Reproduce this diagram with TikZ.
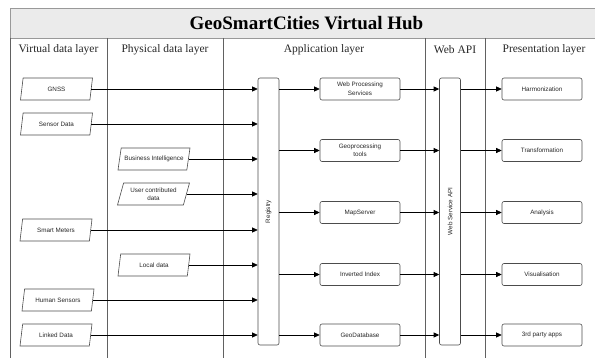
\documentclass[tikz,border=0pt]{standalone}
\usepackage{fontspec}
\setmainfont{Liberation Serif}
\newfontfamily\boxfont{Liberation Sans}
\usetikzlibrary{shapes.geometric,arrows.meta}
\tikzset{
  colline/.style={draw=black!62, line width=0.7pt},
  boxtext/.style={font=\boxfont\fontsize{6.3}{8.5}\selectfont, align=center, text=black!85},
  para/.style={trapezium, trapezium left angle=68, trapezium right angle=112, trapezium stretches body,
    draw=black!70, line width=0.6pt, minimum width=72pt, minimum height=22pt, inner sep=1pt, boxtext},
  rbox/.style={rectangle, rounded corners=2pt, draw=black!70, line width=0.6pt,
    minimum width=80pt, minimum height=22pt, inner sep=1pt, boxtext},
  bar/.style={rectangle, rounded corners=2pt, draw=black!70, line width=0.6pt,
    minimum width=21pt, minimum height=267pt, inner sep=0pt},
  arr/.style={-{Triangle[length=5.5pt,width=5pt]}, line width=0.6pt, draw=black},
  colhead/.style={font=\fontsize{11.5}{13}\selectfont, inner sep=0pt, text=black!85}
}
\begin{document}
\begin{tikzpicture}[x=1pt,y=-1pt]
\useasboundingbox (0,0) rectangle (595,358);
% header band
\path[fill=black!8, draw=black!40, line width=0.8pt] (10,8) rectangle (610,38);
\node[font=\bfseries\fontsize{19}{22}\selectfont, inner sep=0pt] (title) at (306.5,23.5) {GeoSmartCities Virtual Hub};
% column lines
\draw[colline] (10,38) -- (10,360);
\draw[colline] (107,38) -- (107,360);
\draw[colline] (223,38) -- (223,360);
\draw[colline] (425,38) -- (425,360);
\draw[colline] (485,38) -- (485,360);
% column headings
\node[colhead] (h1) at (58.5,50) {Virtual data layer};
\node[colhead] (h2) at (165,50) {Physical data layer};
\node[colhead] (h3) at (324,50) {Application layer};
\node[colhead] (h4) at (455,50) {Web API};
\node[colhead] (h5) at (544,50) {Presentation layer};
% bars
\node[bar, label={[rotate=90, boxtext]center:Registry}] (reg) at (268.5,211.5) {};
\node[bar, label={[rotate=90, boxtext]center:Web Service API}] (api) at (450,211.5) {};
% data sources
\node[para] (gnss) at (56.5,89) {GNSS};
\node[para] (sensor) at (56.5,124) {Sensor Data};
\node[para] (bi) at (154,159) {Business Intelligence};
\node[para] (ucd) at (153.5,194) {User contributed\\data};
\node[para] (smart) at (56,230) {Smart Meters};
\node[para] (local) at (154,265) {Local data};
\node[para] (human) at (58,300) {Human Sensors};
\node[para] (linked) at (56,335) {Linked Data};
\foreach \n in {gnss,sensor,bi,ucd,smart,local,human,linked}
  \draw[arr] (\n.east) -- (\n.east -| reg.west);
% application layer
\node[rbox] (wps) at (360,89) {Web Processing\\Services};
\node[rbox] (geop) at (360,150.5) {Geoprocessing\\tools};
\node[rbox] (map) at (360,212.5) {MapServer};
\node[rbox] (inv) at (360,274.5) {Inverted Index};
\node[rbox] (gdb) at (360,335) {GeoDatabase};
% presentation layer
\node[rbox] (harm) at (542,89) {Harmonization};
\node[rbox] (trans) at (542,150.5) {Transformation};
\node[rbox] (anal) at (542,212.5) {Analysis};
\node[rbox] (vis) at (542,274.5) {Visualisation};
\node[rbox] (third) at (542,335) {3rd party apps};
\foreach \a/\p in {wps/harm,geop/trans,map/anal,inv/vis,gdb/third}{
  \draw[arr] (\a.west -| reg.east) -- (\a.west);
  \draw[arr] (\a.east) -- (\a.east -| api.west);
  \draw[arr] (\p.west -| api.east) -- (\p.west);
}
\end{tikzpicture}
\end{document}
